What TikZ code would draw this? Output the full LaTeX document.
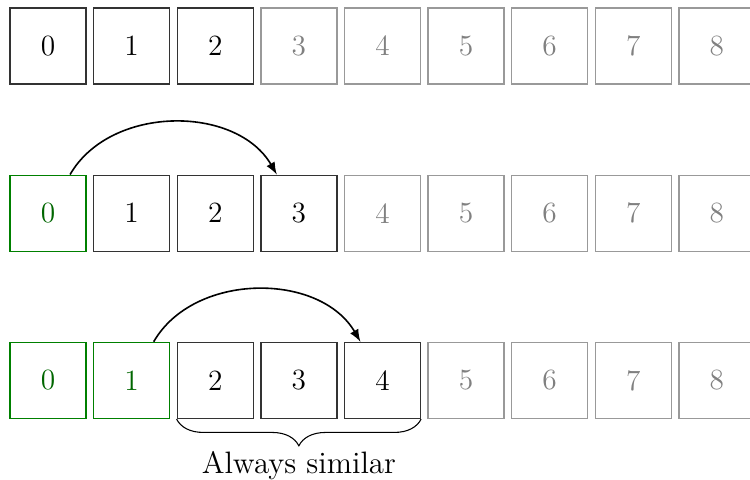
\documentclass[tikz,border=0pt]{standalone}
\usetikzlibrary{decorations.pathreplacing}

\begin{document}
\begin{tikzpicture}[
    cell/.style={draw,minimum size=1cm,inner sep=0pt,line width=0.5pt,
        font=\fontsize{11}{13}\selectfont},
    donebox/.style={cell,draw=green!50!black,text=green!40!black},
    workbox/.style={cell,draw=black!80,text=black},
    todobox/.style={cell,draw=black!40,text=black!50},
    hop/.style={semithick,-latex,bend left=60}
]
    \useasboundingbox (-0.632,0.605) rectangle (9.236,-5.698);

    % three snapshots of the array, done/working/pending cells
    \foreach \row/\done/\last in {1/0/2,2/1/3,3/2/4}
        \foreach \i in {0,...,8} {
            \ifnum\i<\done \def\st{donebox}\else
                \ifnum\i>\last \def\st{todobox}\else \def\st{workbox}\fi\fi
            \node[\st] (r\row n\i) at ({1.1*\i},{-2.2*(\row-1)}) {\i};
        }

    \draw[hop] ([xshift=0.29cm]r2n0.north) to ([xshift=-0.29cm]r2n3.north);
    \draw[hop] ([xshift=0.29cm]r3n1.north) to ([xshift=-0.29cm]r3n4.north);

    \draw[thin,decorate,decoration={brace,mirror,amplitude=10pt}]
        (r3n2.south west) -- (r3n4.south east)
        node[midway,below=8.5pt,font=\fontsize{11.6}{14}\selectfont] (sim) {Always similar};
\end{tikzpicture}
\end{document}
